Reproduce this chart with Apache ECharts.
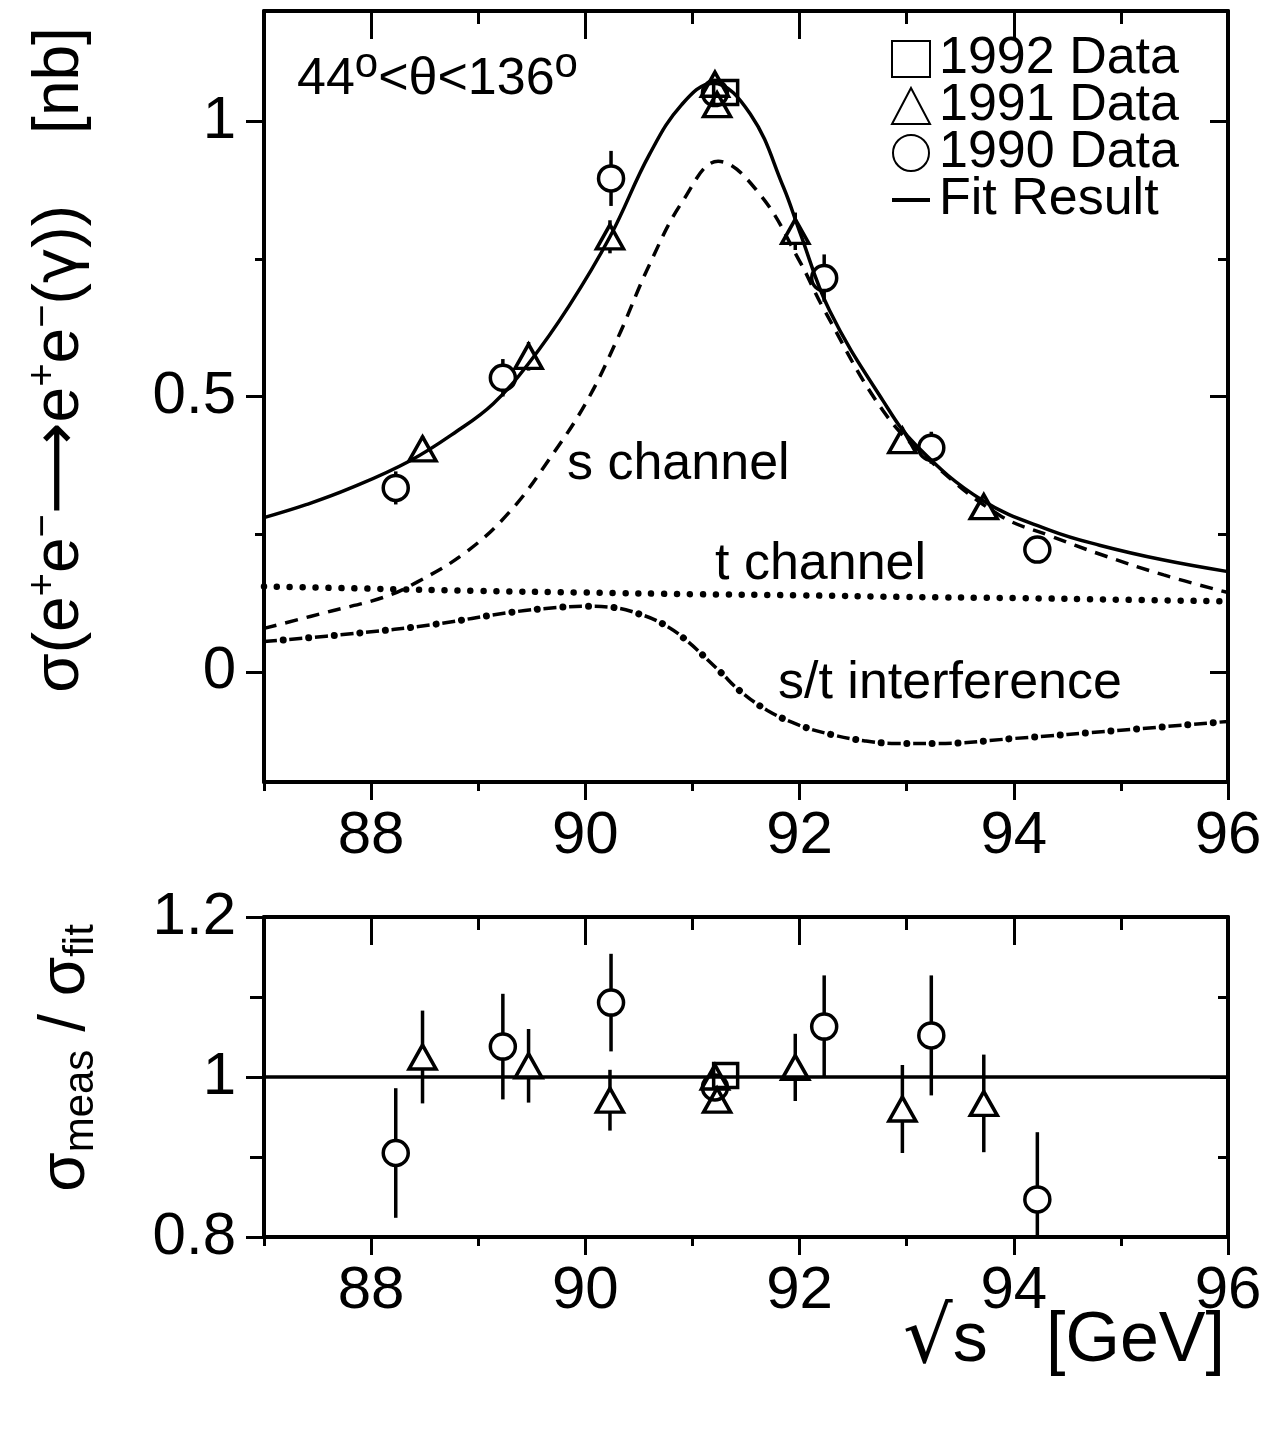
<!DOCTYPE html>
<html>
<head>
<meta charset="utf-8">
<script src="https://cdn.jsdelivr.net/npm/echarts@6/dist/echarts.min.js"></script>
<style>
  html, body { margin: 0; padding: 0; background: #fff; }
  #main { width: 1274px; height: 1430px; }
</style>
</head>
<body>
<div id="main"></div>
<script>
// 1990 data (circles): sqrt(s), cross section [nb], error, ratio to fit, ratio error
var x1990 = [88.23, 89.23, 90.24, 91.21, 92.23, 93.23, 94.22];
var sig1990 = [0.334, 0.534, 0.896, 1.051, 0.715, 0.407, 0.222];
var err1990 = [0.030, 0.034, 0.050, 0.012, 0.043, 0.029, 0.022];
var rat1990 = [0.905, 1.038, 1.093, 0.987, 1.063, 1.052, 0.847];
var rerr1990 = [0.081, 0.066, 0.061, 0.012, 0.064, 0.075, 0.084];

// 1991 data (triangles)
var x1991 = [88.48, 89.47, 90.23, 91.21, 91.23, 91.96, 92.96, 93.72];
var sig1991 = [0.405, 0.573, 0.790, 1.067, 1.030, 0.800, 0.420, 0.300];
var err1991 = [0.023, 0.026, 0.030, 0.008, 0.008, 0.034, 0.024, 0.019];
var rat1991 = [1.025, 1.014, 0.971, 1.000, 0.971, 1.012, 0.960, 0.967];
var rerr1991 = [0.058, 0.046, 0.038, 0.008, 0.008, 0.042, 0.055, 0.061];

// 1992 data (square)
var x1992 = [91.31];
var sig1992 = [1.052];
var err1992 = [0.004];
var rat1992 = [1.002];
var rerr1992 = [0.004];

// fit result (solid)
var fitX = [87.0, 87.4, 87.8, 88.36, 88.8, 89.14, 89.47, 89.85, 90.23, 90.6, 90.9, 91.19, 91.54, 91.85, 92.0, 92.28, 92.78, 93.09, 93.71, 94.34, 94.8, 95.4, 96.0];
var fitY = [0.280, 0.304, 0.333, 0.383, 0.437, 0.487, 0.560, 0.665, 0.790, 0.940, 1.030, 1.069, 1.013, 0.880, 0.800, 0.656, 0.492, 0.411, 0.311, 0.257, 0.230, 0.203, 0.182];

// s channel (dashed)
var sX = [87.0, 87.64, 88.11, 88.42, 88.89, 89.30, 89.67, 90.01, 90.30, 90.60, 90.91, 91.24, 91.63, 92.0, 92.22, 92.78, 93.25, 93.87, 94.34, 94.8, 95.4, 96.0];
var sY = [0.079, 0.111, 0.135, 0.162, 0.218, 0.292, 0.388, 0.490, 0.605, 0.740, 0.855, 0.927, 0.867, 0.746, 0.661, 0.474, 0.378, 0.284, 0.247, 0.214, 0.176, 0.144];

// t channel (dotted)
var tX = [87.0, 88.0, 89.0, 90.0, 91.0, 92.0, 93.0, 94.0, 95.0, 96.0];
var tY = [0.155, 0.151, 0.147, 0.144, 0.141, 0.139, 0.136, 0.134, 0.131, 0.128];

// s/t interference (dash-dot)
var iX = [87.0, 87.86, 88.58, 89.30, 89.78, 90.01, 90.26, 90.49, 90.71, 90.92, 91.26, 91.44, 91.7, 92.0, 92.3, 92.6, 92.9, 93.3, 94.0, 95.0, 96.0];
var iY = [0.055, 0.070, 0.086, 0.108, 0.1175, 0.119, 0.117, 0.106, 0.0885, 0.061, 0.0, -0.034, -0.070, -0.097, -0.114, -0.125, -0.130, -0.130, -0.121, -0.106, -0.090];

// reference line in ratio panel
var oneX = [87, 96];
var oneY = [1, 1];

// ticks
var xMajor = [88, 90, 92, 94, 96];
var xMinor = [87, 89, 91, 93, 95];
var yTopMajor = [0, 0.5, 1];
var yTopMinor = [0.25, 0.75];
var yBotMajor = [0.8, 1, 1.2];
var yBotMinor = [0.9, 1.1];

var FONT = '"Liberation Sans", Arial, Helvetica, sans-serif';

function pairs(xs, ys) {
  var out = [];
  for (var i = 0; i < xs.length; i++) out.push([xs[i], ys[i]]);
  return out;
}

function triples(xs, ys, es) {
  var out = [];
  for (var i = 0; i < xs.length; i++) out.push([xs[i], ys[i], es[i]]);
  return out;
}

// axis helpers
function xAxisFor(grid, position, ticks, len, showLine, showLabel) {
  return {
    type: 'value', gridIndex: grid, position: position, min: 87, max: 96,
    axisLine: { show: showLine, onZero: false, lineStyle: { color: '#000', width: 4 } },
    axisTick: { show: true, inside: position === 'top', length: len, customValues: ticks, lineStyle: { color: '#000', width: 3 } },
    axisLabel: { show: showLabel, customValues: ticks, margin: 24, fontSize: 60, fontFamily: FONT, color: '#000' },
    splitLine: { show: false }
  };
}

function yAxisFor(grid, position, min, max, ticks, len, showLine, showLabel) {
  return {
    type: 'value', gridIndex: grid, position: position, min: min, max: max,
    axisLine: { show: showLine, onZero: false, lineStyle: { color: '#000', width: 4 } },
    axisTick: { show: true, inside: position === 'right', length: len, customValues: ticks, lineStyle: { color: '#000', width: 3 } },
    axisLabel: { show: showLabel, customValues: ticks, margin: 28, fontSize: 60, fontFamily: FONT, color: '#000' },
    splitLine: { show: false }
  };
}

// error bars, drawn outside the hollow marker
function errorBars(name, xs, ys, es, xi, yi, gap) {
  return {
    type: 'custom', name: name, xAxisIndex: xi, yAxisIndex: yi, clip: true, z: 3,
    encode: { x: 0, y: 1 },
    renderItem: function (params, api) {
      var c = api.coord([api.value(0), api.value(1)]);
      var hi = api.coord([api.value(0), api.value(1) + api.value(2)]);
      var lo = api.coord([api.value(0), api.value(1) - api.value(2)]);
      var kids = [];
      if (c[1] - hi[1] > gap) {
        kids.push({ type: 'line', shape: { x1: c[0], y1: hi[1], x2: c[0], y2: c[1] - gap }, style: { stroke: '#000', lineWidth: 3.5 } });
      }
      if (lo[1] - c[1] > gap) {
        kids.push({ type: 'line', shape: { x1: c[0], y1: c[1] + gap, x2: c[0], y2: lo[1] }, style: { stroke: '#000', lineWidth: 3.5 } });
      }
      return { type: 'group', children: kids };
    },
    data: triples(xs, ys, es)
  };
}

function markers(name, symbol, size, xs, ys, xi, yi) {
  return {
    type: 'scatter', name: name, symbol: symbol, symbolSize: size, xAxisIndex: xi, yAxisIndex: yi, z: 5,
    itemStyle: { color: 'rgba(255,255,255,0)', borderColor: '#000', borderWidth: 3.5, opacity: 1 },
    data: pairs(xs, ys)
  };
}

function curve(name, xs, ys, style, xi, yi) {
  return {
    type: 'line', name: name, xAxisIndex: xi, yAxisIndex: yi, smooth: 0.4, symbol: 'none', z: 4,
    itemStyle: { color: '#000' },
    lineStyle: style, data: pairs(xs, ys)
  };
}

var myChart = echarts.init(document.getElementById('main'), null, { renderer: 'canvas' });

var option = {
  animation: false,
  backgroundColor: '#fff',
  grid: [
    { left: 264, top: 11, width: 964, height: 771, outerBoundsMode: 'none' },
    { left: 264, top: 917, width: 964, height: 320, outerBoundsMode: 'none' }
  ],
  xAxis: [
    xAxisFor(0, 'bottom', xMajor, 18, true, true),
    xAxisFor(0, 'bottom', xMinor, 9, false, false),
    xAxisFor(0, 'top', xMajor, 28, true, false),
    xAxisFor(0, 'top', xMinor, 13, false, false),
    xAxisFor(1, 'bottom', xMajor, 18, true, true),
    xAxisFor(1, 'bottom', xMinor, 9, false, false),
    xAxisFor(1, 'top', xMajor, 28, true, false),
    xAxisFor(1, 'top', xMinor, 13, false, false)
  ],
  yAxis: [
    yAxisFor(0, 'left', -0.2, 1.2, yTopMajor, 18, true, true),
    yAxisFor(0, 'left', -0.2, 1.2, yTopMinor, 9, false, false),
    yAxisFor(0, 'right', -0.2, 1.2, yTopMajor, 18, true, false),
    yAxisFor(0, 'right', -0.2, 1.2, yTopMinor, 10, false, false),
    yAxisFor(1, 'left', 0.8, 1.2, yBotMajor, 18, true, true),
    yAxisFor(1, 'left', 0.8, 1.2, yBotMinor, 14, false, false),
    yAxisFor(1, 'right', 0.8, 1.2, yBotMajor, 18, true, false),
    yAxisFor(1, 'right', 0.8, 1.2, yBotMinor, 10, false, false)
  ],
  legend: {
    data: [
      '1992 Data', '1991 Data', '1990 Data',
      { name: 'Fit Result', icon: 'path://M0 0L10 0L10 1L0 1Z' }
    ],
    orient: 'vertical', left: 886, top: 28,
    itemWidth: 38, itemHeight: 36, itemGap: -5,
    selectedMode: false,
    textStyle: { fontSize: 52, fontFamily: FONT, color: '#000', padding: [0, 0, 0, 4] }
  },
  series: [
    // upper panel
    markers('1992 Data', 'rect', 24, x1992, sig1992, 0, 0),
    markers('1991 Data', 'triangle', [27, 24], x1991, sig1991, 0, 0),
    markers('1990 Data', 'circle', 25, x1990, sig1990, 0, 0),
    curve('Fit Result', fitX, fitY, { color: '#000', width: 3.5 }, 0, 0),
    curve('s channel', sX, sY, { color: '#000', width: 3.5, type: [13, 9] }, 0, 0),
    curve('t channel', tX, tY, { color: '#000', width: 6.5, type: [0.01, 12.9], cap: 'round' }, 0, 0),
    curve('s/t interference', iX, iY, { color: '#000', width: 3.5, type: [13, 12.6] }, 0, 0),
    curve('s/t interference dots', iX, iY, { color: '#000', width: 7, type: [0.01, 25.59], dashOffset: -19.3, cap: 'round' }, 0, 0),
    errorBars('1992 err', x1992, sig1992, err1992, 0, 0, 12),
    errorBars('1991 err', x1991, sig1991, err1991, 0, 0, 12),
    errorBars('1990 err', x1990, sig1990, err1990, 0, 0, 12.5),
    // ratio panel
    curve('ratio one', oneX, oneY, { color: '#000', width: 3.5 }, 4, 4),
    markers('1992 Data', 'rect', 24, x1992, rat1992, 4, 4),
    markers('1991 Data', 'triangle', [27, 24], x1991, rat1991, 4, 4),
    markers('1990 Data', 'circle', 25, x1990, rat1990, 4, 4),
    errorBars('1992 rerr', x1992, rat1992, rerr1992, 4, 4, 12),
    errorBars('1991 rerr', x1991, rat1991, rerr1991, 4, 4, 12),
    errorBars('1990 rerr', x1990, rat1990, rerr1990, 4, 4, 12.5)
  ],
  graphic: [
    {
      type: 'text', left: 297, top: 44,
      style: {
        text: '{m|44}{s|o}{m|<θ<136}{s|o}',
        rich: {
          m: { fontSize: 52, fontFamily: FONT, fill: '#000', lineHeight: 72 },
          s: { fontSize: 42, fontFamily: FONT, fill: '#000', verticalAlign: 'top' }
        }
      }
    },
    { type: 'text', x: 567, y: 465, style: { text: 's channel', fontSize: 52, fontFamily: FONT, fill: '#000', verticalAlign: 'middle' } },
    { type: 'text', x: 715, y: 565, style: { text: 't channel', fontSize: 52, fontFamily: FONT, fill: '#000', verticalAlign: 'middle' } },
    { type: 'text', x: 778, y: 684, style: { text: 's/t interference', fontSize: 52, fontFamily: FONT, fill: '#000', verticalAlign: 'middle' } },
    // y titles
    {
      type: 'text', x: 60, y: 360, rotation: Math.PI / 2,
      style: {
        text: '{m|σ(e}{s|+}{m|e}{s|−}{a|⟶}{m|e}{s|+}{m|e}{s|−}{m|(}{g|γ}{m|))    [nb]}',
        align: 'center', verticalAlign: 'middle',
        rich: {
          m: { fontSize: 64, fontFamily: FONT, fill: '#000', lineHeight: 72 },
          a: { fontSize: 64, fontFamily: '"DejaVu Sans", sans-serif', fill: '#000', lineHeight: 72 },
          g: { fontSize: 60, fontFamily: '"DejaVu Sans", sans-serif', fill: '#000', lineHeight: 72 },
          s: { fontSize: 40, fontFamily: FONT, fill: '#000', lineHeight: 40, verticalAlign: 'top' }
        }
      }
    },
    {
      type: 'text', x: 66, y: 1058, rotation: Math.PI / 2,
      style: {
        text: '{m|σ}{b|meas}{m| / σ}{b|fit}',
        align: 'center', verticalAlign: 'middle',
        rich: {
          m: { fontSize: 64, fontFamily: FONT, fill: '#000', lineHeight: 72 },
          b: { fontSize: 42, fontFamily: FONT, fill: '#000', lineHeight: 40, verticalAlign: 'bottom' }
        }
      }
    },
    // x title
    {
      type: 'text', x: 1225, y: 1342,
      style: {
        text: '{r|√}{m|s   [GeV]}',
        align: 'right', verticalAlign: 'middle',
        rich: {
          r: { fontSize: 78, fontFamily: '"DejaVu Sans", sans-serif', fill: '#000', lineHeight: 80 },
          m: { fontSize: 70, fontFamily: FONT, fill: '#000', lineHeight: 80 }
        }
      }
    }
  ]
};

myChart.setOption(option);
</script>
</body>
</html>
